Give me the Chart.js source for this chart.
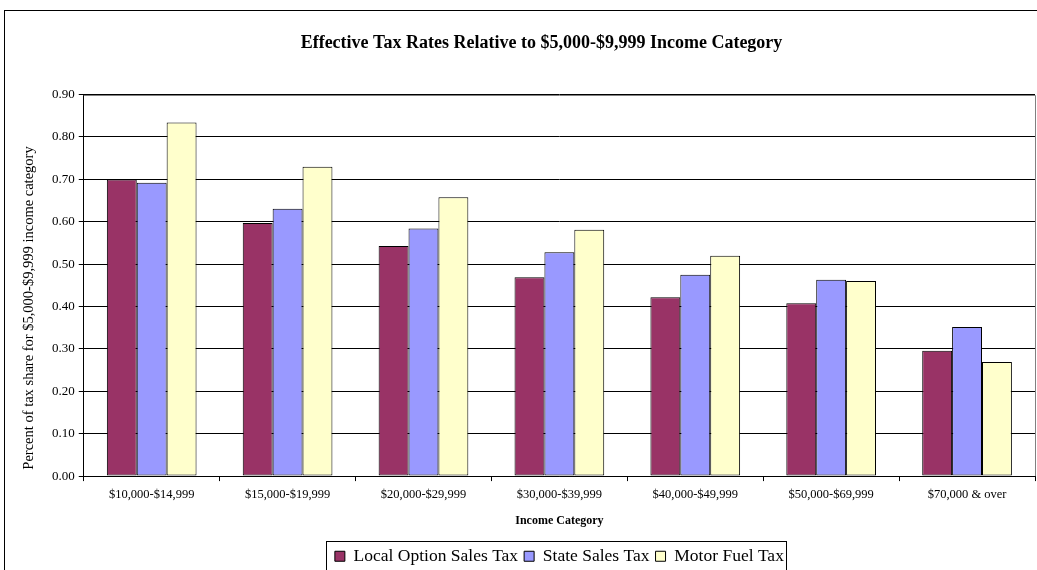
<!DOCTYPE html>
<html>
<head>
<meta charset="utf-8">
<script src="https://cdn.jsdelivr.net/npm/chart.js@4"></script>
<style>
  html, body { margin: 0; padding: 0; background: #fff; overflow: hidden; }
  #wrap { position: relative; width: 1037px; height: 575px; }
</style>
</head>
<body>
<div id="wrap"><canvas id="taxChart"></canvas></div>
<script>
const categories = ['$10,000-$14,999', '$15,000-$19,999', '$20,000-$29,999', '$30,000-$39,999',
                    '$40,000-$49,999', '$50,000-$69,999', '$70,000 & over'];
const localOption = [0.70, 0.597, 0.543, 0.469, 0.422, 0.408, 0.296];
const stateSales = [0.692, 0.631, 0.584, 0.528, 0.475, 0.463, 0.352];
const motorFuel = [0.834, 0.730, 0.658, 0.581, 0.520, 0.460, 0.269];
const seriesNames = ['Local Option Sales Tax', 'State Sales Tax', 'Motor Fuel Tax'];
const yTitle = 'Percent of tax share for $5,000-$9,999 income category';

const serif = "'Liberation Serif', 'Times New Roman', serif";

// outer frame, plot outline, y title and legend box
const frames = {
    id: 'frames',
    beforeDraw(chart) {
        const c = chart.ctx;
        c.save();
        c.fillStyle = '#fff';
        c.fillRect(0, 0, chart.width, chart.height);
        c.restore();
    },
    afterDraw(chart) {
        const c = chart.ctx;
        const a = chart.chartArea;
        c.save();
        c.strokeStyle = '#000';
        c.lineWidth = 1;
        c.strokeRect(4.5, 10.5, 1100, 700);
        c.strokeStyle = '#808080';
        c.beginPath();
        c.moveTo(a.left, Math.round(a.top) + 0.5);
        c.lineTo(Math.round(a.right) + 0.5, Math.round(a.top) + 0.5);
        c.lineTo(Math.round(a.right) + 0.5, a.bottom);
        c.stroke();

        // y axis title, centred on the chart body below the title
        c.fillStyle = '#000';
        c.font = '14.5px ' + serif;
        c.textAlign = 'center';
        c.textBaseline = 'middle';
        c.translate(29, 308);
        c.rotate(-Math.PI / 2);
        c.fillText(yTitle, 0, 0);
        c.setTransform(1, 0, 0, 1, 0, 0);

        const lg = chart.legend;
        if (lg && lg.legendHitBoxes.length) {
            const first = lg.legendHitBoxes[0];
            const last = lg.legendHitBoxes[lg.legendHitBoxes.length - 1];
            const x0 = Math.round(first.left) - 8.5;
            const x1 = Math.round(last.left + last.width) + 2.5;
            const y0 = Math.round(first.top) - 6.5;
            c.strokeStyle = '#000';
            c.strokeRect(x0, y0, x1 - x0, 60);
        }
        c.restore();
    }
};

new Chart(document.getElementById('taxChart'), {
    type: 'bar',
    data: {
        labels: categories,
        datasets: [
            { label: seriesNames[0], data: localOption, backgroundColor: '#993366' },
            { label: seriesNames[1], data: stateSales, backgroundColor: '#9999FF' },
            { label: seriesNames[2], data: motorFuel, backgroundColor: '#FFFFCC' }
        ].map(d => Object.assign(d, { borderColor: '#000', borderWidth: 1, borderSkipped: false }))
    },
    options: {
        responsive: true,
        maintainAspectRatio: false,
        animation: false,
        devicePixelRatio: 1,
        categoryPercentage: 0.66,
        barPercentage: 1.0,
        layout: { padding: { left: 48, right: 2, top: 0, bottom: 0 } },
        plugins: {
            title: {
                display: true,
                text: 'Effective Tax Rates Relative to $5,000-$9,999 Income Category',
                font: { family: serif, size: 18, weight: 'bold' },
                color: '#000',
                padding: { top: 33, bottom: 40 }
            },
            legend: {
                position: 'bottom',
                fullSize: false,
                labels: {
                    font: { family: serif, size: 17.5 },
                    color: '#000',
                    boxWidth: 10,
                    boxHeight: 10,
                    padding: 6
                }
            },
            tooltip: { enabled: false }
        },
        scales: {
            x: {
                grid: { drawOnChartArea: false, drawTicks: true, tickLength: 5, color: '#000', offset: true },
                border: { color: '#000' },
                ticks: { color: '#000', font: { family: serif, size: 12.5 }, maxRotation: 0, padding: 6 },
                title: {
                    display: true,
                    text: 'Income Category',
                    color: '#000',
                    font: { family: serif, size: 12, weight: 'bold' },
                    padding: { top: 6, bottom: 13 }
                }
            },
            y: {
                min: 0,
                max: 0.9,
                grid: { color: '#000', tickLength: 5 },
                border: { color: '#000' },
                ticks: {
                    stepSize: 0.1,
                    color: '#000',
                    font: { family: serif, size: 13 },
                    padding: 4,
                    callback: v => v.toFixed(2)
                }
            }
        }
    },
    plugins: [frames]
});
</script>
</body>
</html>
